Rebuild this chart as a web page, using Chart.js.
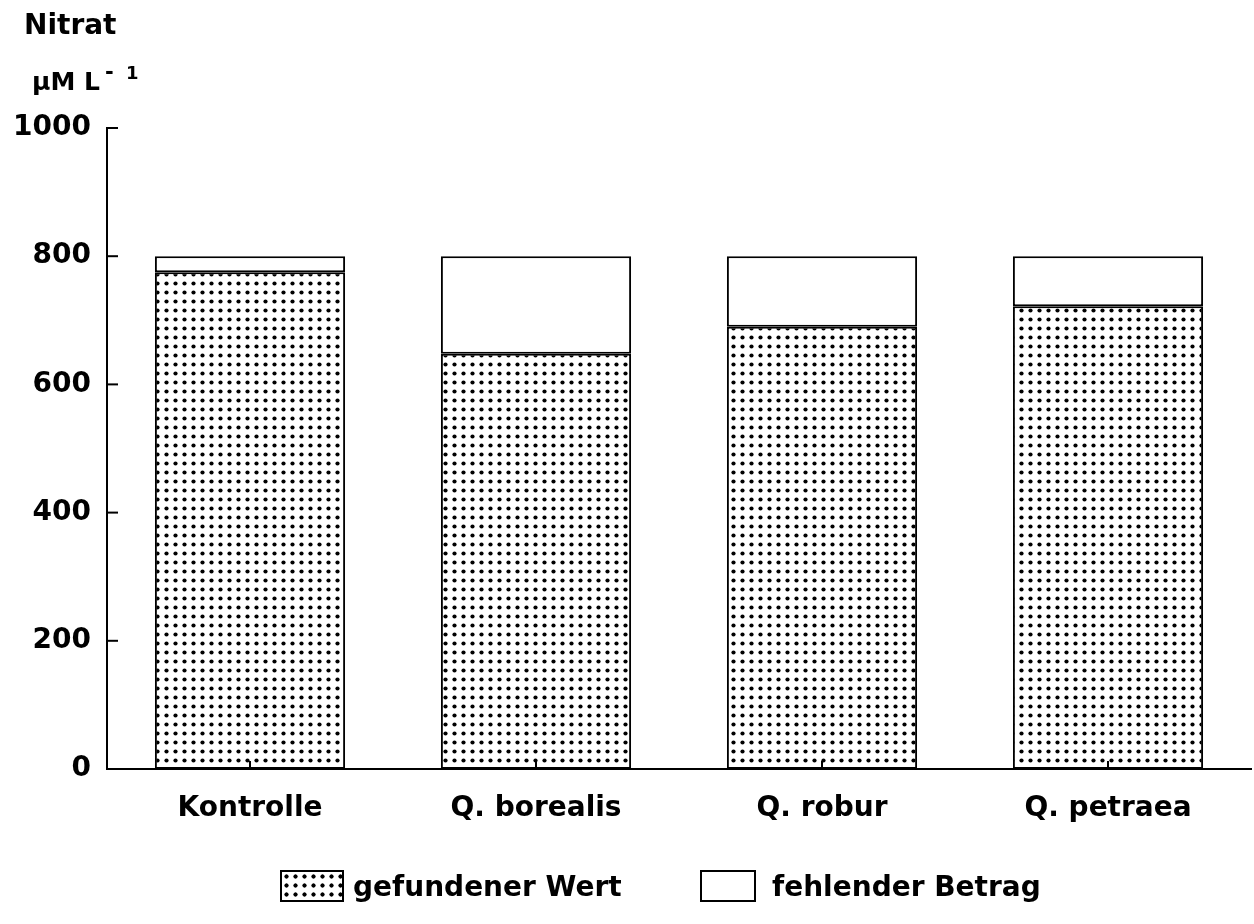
<!DOCTYPE html>
<html>
<head>
<meta charset="utf-8">
<script src="https://cdn.jsdelivr.net/npm/chart.js@4.4.0/dist/chart.umd.min.js"></script>
<style>
  body { margin: 0; background: #fff; }
  #wrap { position: relative; width: 1254px; height: 924px; font-family: "DejaVu Sans", sans-serif; font-weight: bold; color: #000; }
  .lbl { position: absolute; white-space: nowrap; line-height: 1; }
  .swatch { position: absolute; height: 28px; border: 2px solid #000; background: #fff; }
  .dots {
    background-image: radial-gradient(circle, #000 1.8px, transparent 2.4px);
    background-size: 9px 9px;
  }
</style>
</head>
<body>
<div id="wrap">
  <canvas id="myChart"></canvas>
  <div class="lbl" style="left:24px; top:11px; font-size:28px;">Nitrat</div>
  <div class="lbl" style="left:32px; top:69px; font-size:25px;">µM L</div>
  <div class="lbl" style="left:105px; top:62px; font-size:21px;">-</div>
  <div class="lbl" style="left:126px; top:64px; font-size:18px;">1</div>
  <div class="swatch dots" style="left:280px; top:870px; width:60px;"></div>
  <div class="lbl" style="left:353px; top:873px; font-size:28px;">gefundener Wert</div>
  <div class="swatch" style="left:700px; top:870px; width:52px;"></div>
  <div class="lbl" style="left:772px; top:873px; font-size:28px;">fehlender Betrag</div>
</div>
<script>
const categories = ["Kontrolle", "Q. borealis", "Q. robur", "Q. petraea"];
const foundValues = [775, 648, 690, 722];
const missingValues = [25, 152, 110, 78];
const yTicks = [0, 200, 400, 600, 800, 1000];

window.addEventListener("load", function () {
  const canvas = document.getElementById("myChart");
  canvas.style.position = "absolute";
  canvas.style.left = "0";
  canvas.style.top = "0";

  // dotted fill like the printed raster
  const pc = document.createElement("canvas");
  pc.width = 9;
  pc.height = 9;
  const p = pc.getContext("2d");
  p.fillStyle = "#fff";
  p.fillRect(0, 0, 9, 9);
  p.fillStyle = "#000";
  p.beginPath();
  p.arc(4.5, 4.5, 2.1, 0, Math.PI * 2);
  p.fill();
  const ctx = canvas.getContext("2d");
  const dotPattern = ctx.createPattern(pc, "repeat");

  const labelFont = { family: "DejaVu Sans", size: 28, weight: "bold" };

  // ticks point inward in the original, so draw them ourselves
  const innerTicks = {
    id: "innerTicks",
    afterDraw(chart) {
      const { ctx, scales: { x, y } } = chart;
      ctx.save();
      ctx.strokeStyle = "#000";
      ctx.lineWidth = 2;
      yTicks.forEach(function (v) {
        const py = y.getPixelForValue(v);
        ctx.beginPath();
        ctx.moveTo(x.left, py);
        ctx.lineTo(x.left + 11, py);
        ctx.stroke();
      });
      categories.forEach(function (c, i) {
        const px = x.getPixelForValue(i);
        ctx.beginPath();
        ctx.moveTo(px, y.bottom);
        ctx.lineTo(px, y.bottom - 8);
        ctx.stroke();
      });
      ctx.restore();
    },
  };

  new Chart(ctx, {
    type: "bar",
    data: {
      labels: categories,
      datasets: [
        {
          label: "gefundener Wert",
          data: foundValues,
          backgroundColor: dotPattern,
          borderColor: "#000",
          borderWidth: 2,
          borderSkipped: false,
        },
        {
          label: "fehlender Betrag",
          data: missingValues,
          backgroundColor: "#fff",
          borderColor: "#000",
          borderWidth: 2,
          borderSkipped: false,
        },
      ],
    },
    options: {
      responsive: true,
      maintainAspectRatio: false,
      animation: false,
      layout: { padding: { top: 128, right: 3, bottom: 0, left: 0 } },
      datasets: { bar: { categoryPercentage: 1, barPercentage: 0.665 } },
      scales: {
        x: {
          stacked: true,
          grid: { display: false, drawTicks: false },
          border: { display: true, color: "#000", width: 2 },
          ticks: { color: "#000", font: labelFont, padding: 23 },
          afterFit: function (scale) { scale.height = 155; },
        },
        y: {
          stacked: true,
          min: 0,
          max: 1000,
          grid: { display: false, drawTicks: false },
          border: { display: true, color: "#000", width: 2 },
          ticks: {
            color: "#000",
            font: labelFont,
            stepSize: 200,
            padding: 16,
            callback: function (v) { return String(v); },
          },
          afterFit: function (scale) { scale.width = 107; },
        },
      },
      plugins: {
        legend: { display: false },
        tooltip: { enabled: false },
      },
    },
    plugins: [innerTicks],
  });
});
</script>
</body>
</html>
